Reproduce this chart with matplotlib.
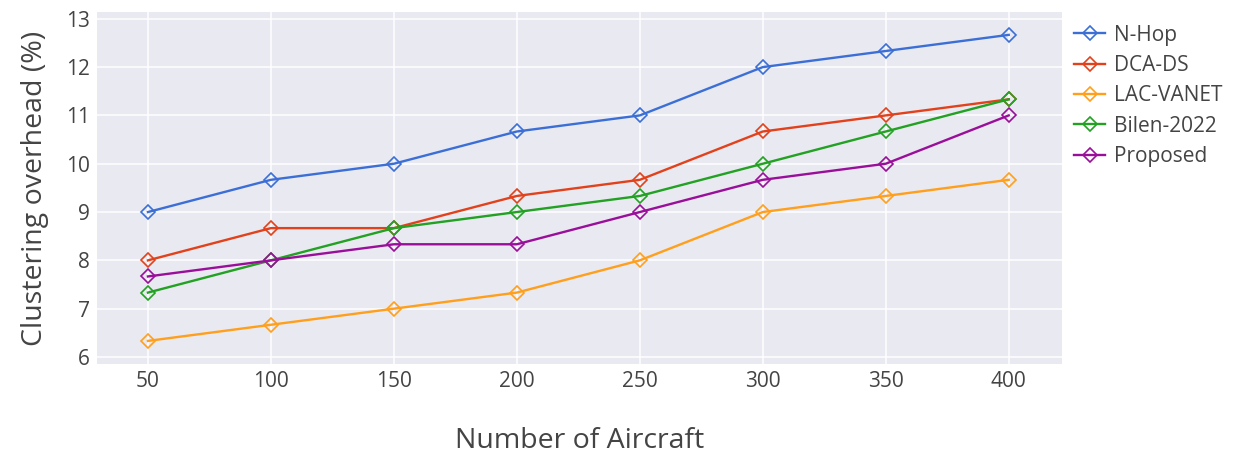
import matplotlib.pyplot as plt
import numpy as np

aircraft = [50, 100, 150, 200, 250, 300, 350, 400]
n_hop = [9.0, 9.667, 10.0, 10.667, 11.0, 12.0, 12.333, 12.667]
dca_ds = [8.0, 8.667, 8.667, 9.333, 9.667, 10.667, 11.0, 11.333]
lac_vanet = [6.333, 6.667, 7.0, 7.333, 8.0, 9.0, 9.333, 9.667]
bilen_2022 = [7.333, 8.0, 8.667, 9.0, 9.333, 10.0, 10.667, 11.333]
proposed = [7.667, 8.0, 8.333, 8.333, 9.0, 9.667, 10.0, 11.0]

series = [
    ("N-Hop", n_hop, "#3c6fd6"),
    ("DCA-DS", dca_ds, "#e2421b"),
    ("LAC-VANET", lac_vanet, "#ff9f1c"),
    ("Bilen-2022", bilen_2022, "#22a122"),
    ("Proposed", proposed, "#9a0f9a"),
]

plt.rcParams['font.family'] = ['Open Sans', 'DejaVu Sans']

fig = plt.figure(figsize=(12.33, 4.55), dpi=100)
ax = fig.add_axes([0.0787, 0.2, 0.7823, 0.7736])
ax.set_facecolor("#e8e9f1")

for name, vals, col in series:
    ax.plot(aircraft, vals, color=col, lw=1.7, marker="D", markersize=7.5,
            markerfacecolor="none", markeredgecolor=col, markeredgewidth=1.2,
            label=name)

ax.set_xlim(29.3, 421.5)
ax.set_ylim(5.855, 13.14)
ax.set_xticks(aircraft)
ax.set_yticks(range(6, 14))
ax.grid(color="white", lw=1.1)
ax.set_axisbelow(True)
for s in ax.spines.values():
    s.set_visible(False)
ax.tick_params(length=0, labelsize=15, colors="#444444", pad=5)
ax.set_xlabel("Number of Aircraft", fontsize=20.5, color="#444444", labelpad=25)
ax.set_ylabel("Clustering overhead (%)", fontsize=20.5, color="#444444", labelpad=12)

leg = ax.legend(loc="upper left", bbox_to_anchor=(1.0, 1.0), frameon=False,
                fontsize=15, labelcolor="#444444", handlelength=1.5,
                labelspacing=0.45, handletextpad=0.4, borderaxespad=0.2)

fig.savefig("out.png", dpi=100)
